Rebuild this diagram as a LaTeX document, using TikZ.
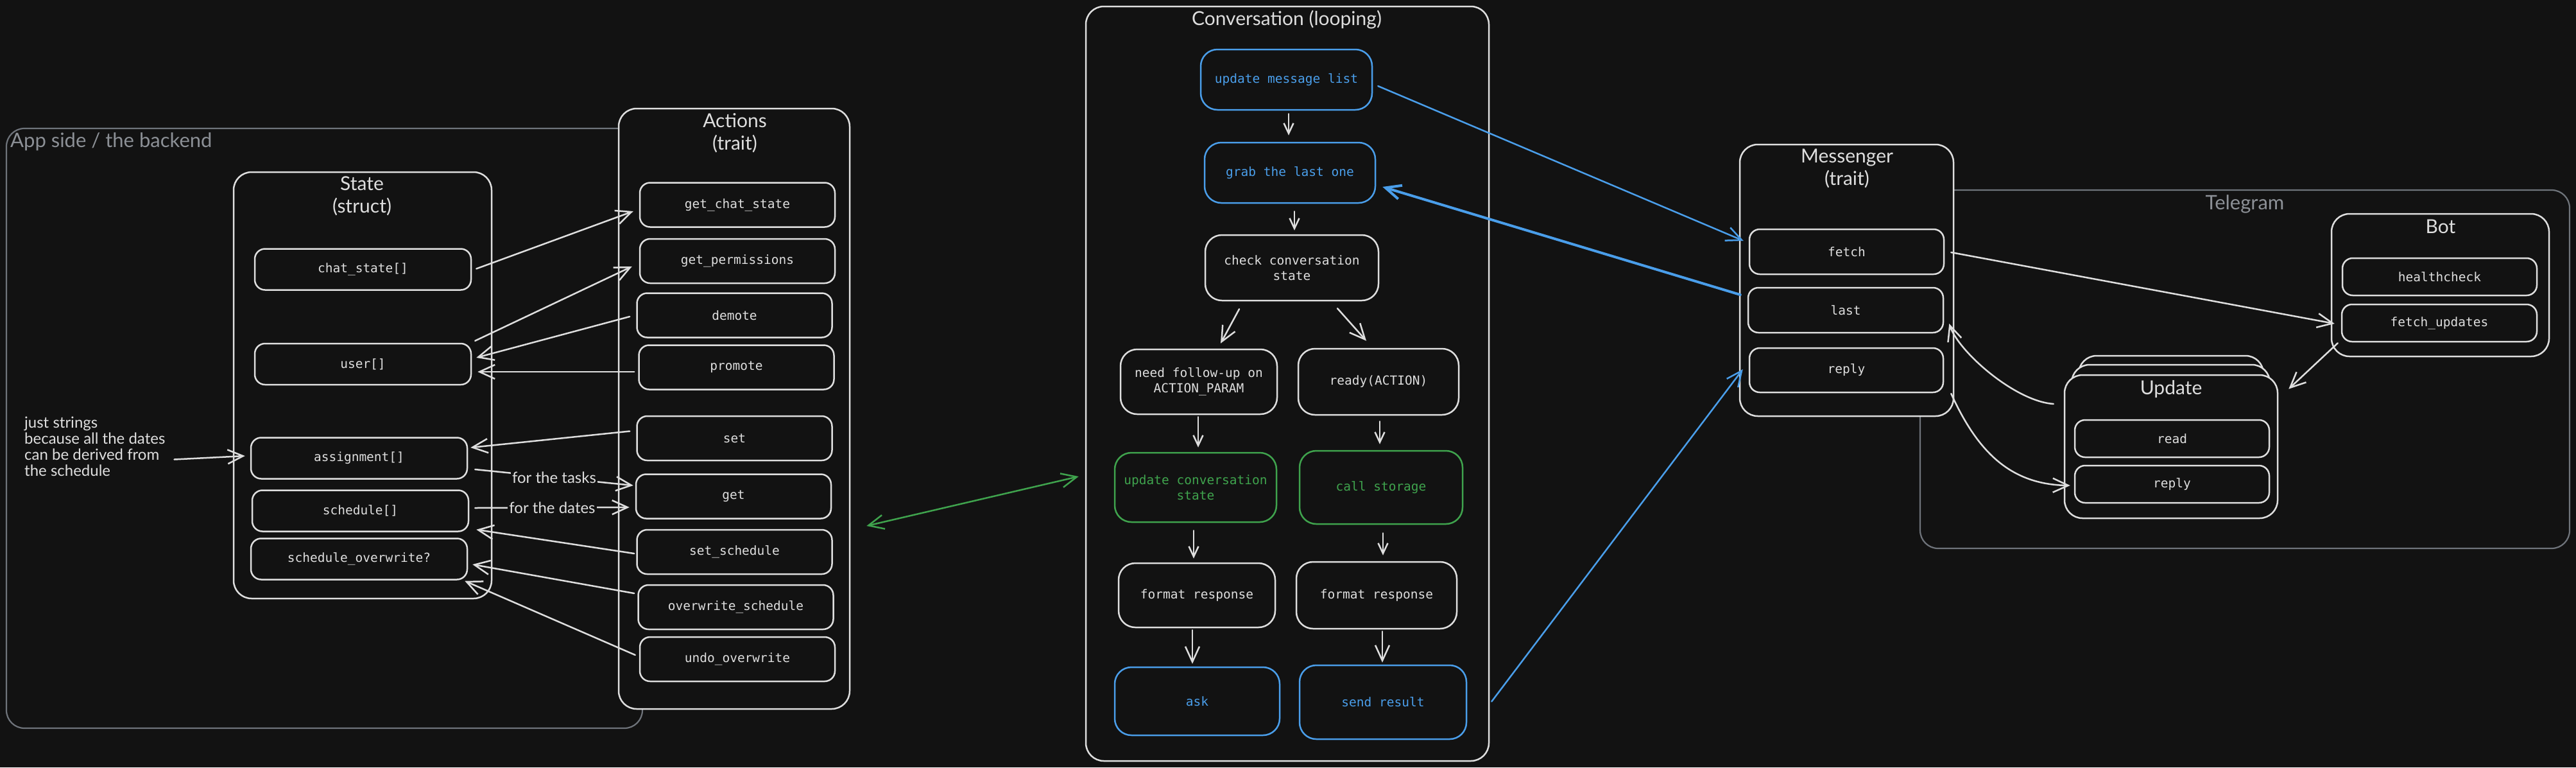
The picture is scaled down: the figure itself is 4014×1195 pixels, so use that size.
\documentclass[tikz,border=0pt]{standalone}
\usepackage{fontspec}
\setmainfont{Lato}
\newfontfamily\monof{DejaVu Sans Mono}
\newfontfamily\handf{Lato}
\usetikzlibrary{arrows.meta,calc}
\definecolor{bg}{HTML}{121212}
\definecolor{fg}{HTML}{DEDEDE}
\definecolor{cblue}{HTML}{4A9EEA}
\definecolor{cgreen}{HTML}{3FA34D}
\definecolor{cgray}{HTML}{6F747B}
\definecolor{tgray}{HTML}{8C9096}
\tikzset{
  cont/.style={draw=fg, line width=2.5pt, rounded corners=28pt, fill=bg, inner sep=0pt},
  grp/.style={draw=cgray, line width=2.2pt, rounded corners=28pt},
  itm/.style={draw=fg, line width=2.5pt, rounded corners=16pt, fill=bg, text=fg,
    font=\monof\fontsize{19.5}{24}\selectfont, align=center, inner sep=0pt},
  flw/.style={itm, rounded corners=26pt},
  bflw/.style={flw, draw=cblue, text=cblue},
  gflw/.style={flw, draw=cgreen, text=cgreen},
  ttl/.style={text=fg, font=\handf\fontsize{30}{35}\selectfont, align=center, inner sep=0pt},
  gttl/.style={ttl, text=tgray, font=\handf\fontsize{31}{35}\selectfont},
  notetxt/.style={text=fg, font=\handf\fontsize{24}{25}\selectfont, align=left, inner sep=0pt},
  lbltxt/.style={text=fg, font=\handf\fontsize{24}{25}\selectfont, fill=bg, inner sep=2pt},
  arr/.style={draw=fg, line width=2.5pt, line cap=round, -{Straight Barb[length=24pt,width=22pt]}},
  arrs/.style={arr, -{Straight Barb[length=16pt,width=15pt]}},
  barr/.style={arr, draw=cblue},
  garr/.style={arr, draw=cgreen, {Straight Barb[length=24pt,width=22pt]}-{Straight Barb[length=24pt,width=22pt]}},
}
\begin{document}
\begin{tikzpicture}[x=1pt,y=-1pt]
\useasboundingbox (0,0) rectangle (4014,1195);
\fill[bg] (0,0) rectangle (4014,1195);

% ---------- App side group ----------
\draw[grp] (10,200) rectangle (1001,1134);
\node[gttl, anchor=west] (appT) at (16,221) {App side / the backend};

% State
\node[cont, minimum width=402pt, minimum height=664pt] (state) at (565,600) {};
\node[ttl] (stateT) at (564,305) {State\\(struct)};
\node[itm, minimum width=337pt, minimum height=64pt] (chat) at (565.5,419.5) {chat\_state[]};
\node[itm, minimum width=337pt, minimum height=64pt] (user) at (565.5,567) {user[]};
\node[itm, minimum width=337pt, minimum height=64pt] (assign) at (559.5,713.5) {assignment[]};
\node[itm, minimum width=337pt, minimum height=64pt] (sched) at (561.5,795.5) {schedule[]};
\node[itm, minimum width=337pt, minimum height=64pt] (sover) at (559.5,870.5) {schedule\_overwrite?};

% Actions
\node[cont, minimum width=360pt, minimum height=935pt] (actions) at (1144,636.5) {};
\node[ttl] (actionsT) at (1145,207) {Actions\\(trait)};
\node[itm, minimum width=304pt, minimum height=69pt] (gcs) at (1149,319) {get\_chat\_state};
\node[itm, minimum width=304pt, minimum height=69pt] (gperm) at (1149,406.5) {get\_permissions};
\node[itm, minimum width=304pt, minimum height=69pt] (demote) at (1144.5,491) {demote};
\node[itm, minimum width=304pt, minimum height=69pt] (promote) at (1147.5,572) {promote};
\node[itm, minimum width=304pt, minimum height=69pt] (set) at (1144.5,682.5) {set};
\node[itm, minimum width=304pt, minimum height=69pt] (get) at (1143,773) {get};
\node[itm, minimum width=304pt, minimum height=69pt] (setsch) at (1144.5,859.5) {set\_schedule};
\node[itm, minimum width=304pt, minimum height=69pt] (owsch) at (1146.5,945.5) {overwrite\_schedule};
\node[itm, minimum width=304pt, minimum height=69pt] (undo) at (1149,1026.5) {undo\_overwrite};

% note
\node[notetxt, anchor=west] (note) at (38,695.5) {just strings\\because all the dates\\can be derived from\\the schedule};

% ---------- Conversation ----------
\node[cont, minimum width=628pt, minimum height=1175pt] (conv) at (2006,597.5) {};
\node[ttl] (convT) at (2005,31) {Conversation (looping)};
\node[bflw, minimum width=267pt, minimum height=94pt] (uml) at (2004.5,124) {update message list};
\node[bflw, minimum width=266pt, minimum height=94pt] (grab) at (2010,269) {grab the last one};
\node[flw, minimum width=270pt, minimum height=102pt] (check) at (2013,417) {check conversation\\state};
\node[flw, minimum width=244pt, minimum height=101pt] (need) at (1868,594.5) {need follow-up on\\ACTION\_PARAM};
\node[flw, minimum width=250pt, minimum height=103pt] (ready) at (2148,594.5) {ready(ACTION)};
\node[gflw, minimum width=252pt, minimum height=108pt] (ucs) at (1863,759) {update conversation\\state};
\node[gflw, minimum width=254pt, minimum height=114pt] (call) at (2152,759) {call storage};
\node[flw, minimum width=244pt, minimum height=100pt] (fmtL) at (1865,927) {format response};
\node[flw, minimum width=250pt, minimum height=104pt] (fmtR) at (2145,927) {format response};
\node[bflw, minimum width=257pt, minimum height=106pt] (ask) at (1865.5,1092) {ask};
\node[bflw, minimum width=260pt, minimum height=115pt] (send) at (2155,1093.5) {send result};

% ---------- Telegram group ----------
\draw[grp] (2992,296) rectangle (4004,854);
\node[gttl] (telT) at (3498,318) {Telegram};

% Messenger
\node[cont, minimum width=333pt, minimum height=423pt] (msgr) at (2877.5,436.5) {};
\node[ttl] (msgrT) at (2878,262) {Messenger\\(trait)};
\node[itm, minimum width=303pt, minimum height=70pt] (fetch) at (2877.5,392) {fetch};
\node[itm, minimum width=304pt, minimum height=70pt] (last) at (2876,483) {last};
\node[itm, minimum width=302pt, minimum height=69pt] (mreply) at (2877,576.5) {reply};

% Bot
\node[cont, minimum width=339pt, minimum height=222pt] (bot) at (3802.5,444) {};
\node[ttl] (botT) at (3803,353) {Bot};
\node[itm, minimum width=303pt, minimum height=58pt] (health) at (3801.5,431) {healthcheck};
\node[itm, minimum width=304pt, minimum height=58pt] (fupd) at (3801,503) {fetch\_updates};

% Update (stack)
\node[cont, minimum width=288pt, minimum height=240pt] (updB3) at (3383,674) {};
\node[cont, minimum width=309pt, minimum height=232pt] (updB2) at (3382.5,684) {};
\node[cont, minimum width=332pt, minimum height=223pt] (upd) at (3383,695.5) {};
\node[ttl] (updT) at (3383,606) {Update};
\node[itm, minimum width=303pt, minimum height=58pt] (read) at (3384.5,683) {read};
\node[itm, minimum width=303pt, minimum height=58pt] (ureply) at (3384.5,754) {reply};

% ---------- connectors: State / Actions ----------
\draw[arr] ($(chat.east)+(7,-1)$) -- ($(gcs.west)+(-9,10)$);
\draw[arr] ($(user.north east)+(5,-3)$) -- ($(gperm.west)+(-11,8.5)$);
\draw[arr] ($(demote.west)+(-10,2)$) -- ($(user.east)+(7,-10)$);
\draw[arr] ($(promote.west)+(-6,7)$) -- ($(user.east)+(9,12)$);
\draw[arr] ($(set.west)+(-10,-11)$) -- ($(assign.east)+(4,-16.5)$);
\draw[arr] ($(assign.east)+(11,17.5)$) -- node[lbltxt] {for the tasks} ($(get.west)+(-3,-17)$);
\draw[arr] ($(sched.east)+(9,-4.5)$) -- node[lbltxt] {for the dates} ($(get.west)+(-9,17)$);
\draw[arr] ($(setsch.west)+(-3,2.5)$) -- ($(sched.south east)+(11,-4)$);
\draw[arr] ($(owsch.west)+(-5,-21.5)$) -- ($(sover.east)+(7,8.5)$);
\draw[arr] ($(undo.west)+(-6,-6.5)$) -- ($(sover.south east)+(-5,1)$);
\draw[arr] ($(note.east)+(14,20)$) -- ($(assign.west)+(-8,-3.5)$);

% green link
\draw[garr] ($(actions.east)+(25,182.5)$) -- ($(conv.west)+(-10,144.5)$);

% ---------- connectors: Conversation ----------
\draw[arrs] ($(uml.south)+(3.5,5)$) -- ($(grab.north)+(-2,-10)$);
\draw[arrs] ($(grab.south)+(7,12)$) -- ($(check.north)+(4,-6)$);
\draw[arr] ($(check.south)+(-82,12)$) -- ($(need.north)+(34,-8)$);
\draw[arr] ($(check.south)+(71,11)$) -- ($(ready.north)+(-19,-11)$);
\draw[arrs] ($(need.south)+(-1,3)$) -- ($(ucs.north)+(4,-7)$);
\draw[arrs] ($(ready.south)+(2,9)$) -- ($(call.north)+(-2,-9)$);
\draw[arrs] ($(ucs.south)+(-3,12)$) -- ($(fmtL.north)+(-5,-6)$);
\draw[arrs] ($(call.south)+(3,13)$) -- ($(fmtR.north)+(10,-9)$);
\draw[arr] ($(fmtL.south)+(-7,3)$) -- ($(ask.north)+(-7.5,-4)$);
\draw[arr] ($(fmtR.south)+(9,3)$) -- ($(send.north)+(-1,-3)$);

% ---------- blue links ----------
\draw[barr] ($(uml.east)+(8,10)$) -- ($(fetch.west)+(-8,-17)$);
\draw[barr, line width=4pt] ($(last.west)+(-11,-24)$) -- ($(grab.east)+(10,22)$);
\draw[barr] ($(conv.east)+(3,495)$) -- ($(mreply.west)+(-9,-1.5)$);

% ---------- connectors: Telegram ----------
\draw[arr] ($(fetch.east)+(10,1)$) -- ($(fupd.west)+(-10,1)$);
\draw[arr] ($(bot.south west)+(11,-22)$) -- ($(upd.north east)+(16,23)$);
\draw[arr] ($(upd.west)+(-16,-66.5)$) .. controls (3140,625) and (3052,548) .. ($(last.east)+(8,21)$);
\draw[arr] ($(mreply.east)+(11,36.5)$) .. controls (3080,700) and (3130,755) .. ($(ureply.west)+(-6,2)$);
\end{tikzpicture}
\end{document}
